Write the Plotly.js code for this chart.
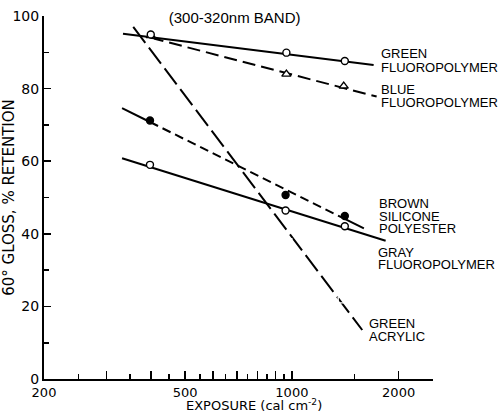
<!DOCTYPE html>
<html>
<head>
<meta charset="utf-8">
<script src="https://cdn.plot.ly/plotly-3.0.1.min.js"></script>
<style>html,body{margin:0;padding:0;background:#fff}#chart{width:500px;height:413px}</style>
</head>
<body>
<div id="chart"></div>
<script>
// ---- data ----
const greenFluoroX = [400, 965, 1410];
const greenFluoroY = [94.9, 89.9, 87.6];
const greenFluoroLineX = [334, 1700];
const greenFluoroLineY = [95.1, 86.5];

const blueFluoroX = [400, 965, 1400];
const blueFluoroY = [94.6, 84.0, 80.7];
const blueFluoroLineX = [400, 1734];
const blueFluoroLineY = [94.0, 77.8];

const greenAcrylicX = [398, 980, 1377];
const greenAcrylicY = [92.6, 37.8, 21.8];
const greenAcrylicLineX = [357, 1579];
const greenAcrylicLineY = [97.0, 13.5];

const brownX = [398, 960, 1410];
const brownY = [71.2, 50.7, 44.9];
const brownLineX = [332, 398, 1410, 1596];
const brownLineY = [74.6, 70.8, 44.1, 41.5];

const grayFluoroX = [398, 960, 1410];
const grayFluoroY = [59.0, 46.4, 42.1];
const grayFluoroLineX = [332, 1838];
const grayFluoroLineY = [60.8, 38.1];

const xMajorTicks = [200, 300, 400, 500, 600, 700, 800, 900, 1000, 2000];
const xMajorLabels = ['200', '', '', '500', '', '', '', '', '1000', '2000'];
const xMinorTicks = [250, 350, 450, 550, 650, 750, 850, 950, 1500, 2500];
const yMajorTicks = [0, 20, 40, 60, 80, 100];
const yMinorTicks = [10, 30, 50, 70, 90];

const seriesLabels = [
  {lines: ['GREEN', 'FLUOROPOLYMER'], px: 379, py: [54, 67]},
  {lines: ['BLUE', 'FLUOROPOLYMER'], px: 379, py: [90, 103]},
  {lines: ['BROWN', 'SILICONE', 'POLYESTER'], px: 377, py: [203, 216, 228]},
  {lines: ['GRAY', 'FLUOROPOLYMER'], px: 376, py: [252, 264]},
  {lines: ['GREEN', 'ACRYLIC'], px: 367, py: [323, 336]}
];

const FONT = 'Liberation Sans, Arial, sans-serif';
const WIDE = 'DejaVu Sans, sans-serif';
const LW = 2;

function lineTrace(x, y, dash) {
  return {x: x, y: y, mode: 'lines', type: 'scatter', hoverinfo: 'skip',
          line: {color: '#000', width: LW, dash: dash || 'solid'}, showlegend: false};
}
function markerTrace(x, y, symbol, size, fill) {
  return {x: x, y: y, mode: 'markers', type: 'scatter', showlegend: false,
          marker: {symbol: symbol, size: size, color: fill, line: {color: '#000', width: 1.4}}};
}

const traces = [
  lineTrace(greenFluoroLineX, greenFluoroLineY),
  lineTrace(blueFluoroLineX, blueFluoroLineY, '13px,6px'),
  lineTrace(greenAcrylicLineX, greenAcrylicLineY, '20px,6px'),
  lineTrace(brownLineX.slice(0, 2), brownLineY.slice(0, 2)),
  lineTrace(brownLineX.slice(1, 3), brownLineY.slice(1, 3), '9px,5px'),
  lineTrace(brownLineX.slice(2, 4), brownLineY.slice(2, 4)),
  lineTrace(grayFluoroLineX, grayFluoroLineY),
  markerTrace(greenAcrylicX, greenAcrylicY, 'square-open', 6, '#fff'),
  markerTrace(blueFluoroX, blueFluoroY, 'triangle-up', 8, '#fff'),
  markerTrace(greenFluoroX, greenFluoroY, 'circle', 7, '#fff'),
  markerTrace(grayFluoroX, grayFluoroY, 'circle', 7, '#fff'),
  markerTrace(brownX, brownY, 'circle', 7, '#000')
];

const L = 44, R = 433, T = 16, B = 379;
const annotations = [];
seriesLabels.forEach(function (s) {
  s.lines.forEach(function (t, i) {
    annotations.push({
      text: t, xref: 'paper', yref: 'paper',
      x: (s.px - L) / (R - L), y: (B - s.py[i]) / (B - T),
      xanchor: 'left', yanchor: 'middle', showarrow: false,
      font: {family: FONT, size: 13, color: '#000'}
    });
  });
});
// x-axis title, placed as in the reference
annotations.push({
  text: 'EXPOSURE (cal cm<sup>-2</sup>)', xref: 'paper', yref: 'paper',
  x: (254 - L) / (R - L), y: (B - 405) / (B - T),
  xanchor: 'center', yanchor: 'middle', showarrow: false,
  font: {family: WIDE, size: 13, color: '#000'}
});

const layout = {
  width: 500, height: 413,
  margin: {l: L, r: 500 - R, t: T, b: 413 - B, pad: 0},
  paper_bgcolor: '#fff', plot_bgcolor: '#fff',
  showlegend: false,
  font: {family: FONT, color: '#000'},
  title: {text: '(300-320nm BAND)', x: 245 / 500, xref: 'paper', xanchor: 'center',
          y: 1 - 18 / 413, yref: 'container', yanchor: 'middle',
          font: {family: FONT, size: 15, color: '#000'}},
  xaxis: {
    type: 'log', range: [Math.log10(200), Math.log10(2500)],
    showgrid: false, zeroline: false,
    showline: true, linecolor: '#000', linewidth: 2,
    ticks: 'inside', ticklen: 8, tickwidth: 1.6, tickcolor: '#000',
    tickmode: 'array', tickvals: xMajorTicks, ticktext: xMajorLabels, tickangle: 0,
    tickfont: {family: WIDE, size: 13, color: '#000'},
    minor: {tickmode: 'array', tickvals: xMinorTicks, ticks: 'inside', ticklen: 5, tickwidth: 1.6, tickcolor: '#000', showgrid: false},
    automargin: false, fixedrange: true
  },
  yaxis: {
    range: [0, 100],
    showgrid: false, zeroline: false,
    showline: true, linecolor: '#000', linewidth: 2,
    ticks: 'inside', ticklen: 7, tickwidth: 1.6, tickcolor: '#000',
    tickmode: 'array', tickvals: yMajorTicks,
    tickfont: {family: WIDE, size: 14, color: '#000'},
    minor: {tickmode: 'array', tickvals: yMinorTicks, ticks: 'inside', ticklen: 5, tickwidth: 1.6, tickcolor: '#000', showgrid: false},
    title: {text: '60° GLOSS, % RETENTION', standoff: 3, font: {family: WIDE, size: 15, color: '#000'}},
    automargin: false, fixedrange: true
  },
  annotations: annotations
};

Plotly.newPlot('chart', traces, layout, {displayModeBar: false, staticPlot: true});
</script>
</body>
</html>
